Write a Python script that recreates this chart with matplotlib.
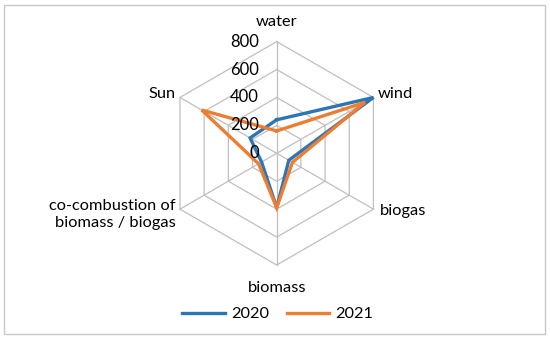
import numpy as np
import matplotlib
matplotlib.use('Agg')
import matplotlib.pyplot as plt
from matplotlib.patches import Rectangle

categories = ['water', 'wind', 'biogas', 'biomass',
              'co-combustion of\nbiomass / biogas', 'Sun']
v2020 = [240, 800, 100, 390, 125, 220]
v2021 = [160, 730, 130, 390, 150, 620]
rings = [0, 200, 400, 600, 800]
series = ['2020', '2021']
colors = ['#2e75b6', '#ed7d31']

plt.rcParams['font.family'] = ['Lato', 'DejaVu Sans']

W, H = 550, 339
cx, cy = 276.7, 153.3     # centre in px (from top)
rpx = 111.7              # px for 800
s = 800 / rpx

fig = plt.figure(figsize=(5.5, 3.39), dpi=100)
ax = fig.add_axes([0, 0, 1, 1])
ax.set_xlim(-cx * s, (W - cx) * s)
ax.set_ylim(-(H - cy) * s, cy * s)
ax.axis('off')

n = len(categories)
ang = np.pi / 2 - np.arange(n) * 2 * np.pi / n
ux, uy = np.cos(ang), np.sin(ang)

grid = '#bfbfbf'
for r in rings[1:]:
    ax.plot(np.append(ux, ux[0]) * r, np.append(uy, uy[0]) * r,
            color=grid, lw=0.9, zorder=1)
for i in range(n):
    ax.plot([0, ux[i] * rings[-1]], [0, uy[i] * rings[-1]],
            color=grid, lw=0.9, zorder=1)

for vals, c, lab in zip([v2020, v2021], colors, series):
    v = np.array(vals)
    ax.plot(np.append(ux * v, ux[0] * v[0]), np.append(uy * v, uy[0] * v[0]),
            color=c, lw=2.4, solid_joinstyle='miter', zorder=3, label=lab)

for r in rings:
    ax.text(-18 * s, r, str(r), ha='right', va='center', fontsize=12,
            color='#000000', zorder=4)

# category labels
fs = 11.8
R = rings[-1]
ax.text(0, R + 20 * s, categories[0], ha='center', va='center', fontsize=fs)
ax.text(ux[1] * R + 4 * s, uy[1] * R + 3 * s, categories[1], ha='left', va='center', fontsize=fs)
ax.text(ux[2] * R + 6 * s, uy[2] * R - 2 * s, categories[2], ha='left', va='center', fontsize=fs)
ax.text(0, -R - 23 * s, categories[3], ha='center', va='center', fontsize=fs)
ax.text(ux[4] * R - 4 * s, uy[4] * R - 5 * s, categories[4], ha='right', va='center',
        fontsize=fs, multialignment='right', linespacing=1.25)
ax.text(ux[5] * R - 4 * s, uy[5] * R + 3 * s, categories[5], ha='right', va='center', fontsize=fs)

leg = ax.legend(loc='center', bbox_to_anchor=(0.505, 1 - 314 / H), ncol=2,
                frameon=False, fontsize=11.8, handlelength=2.6,
                columnspacing=1.1, handletextpad=0.35)

fig.patches.append(Rectangle((4 / W, 5 / H), 541 / W, 329 / H,
                             transform=fig.transFigure, fill=False,
                             edgecolor='#c8c8c8', lw=1.0))

fig.savefig('out.png', dpi=100)
